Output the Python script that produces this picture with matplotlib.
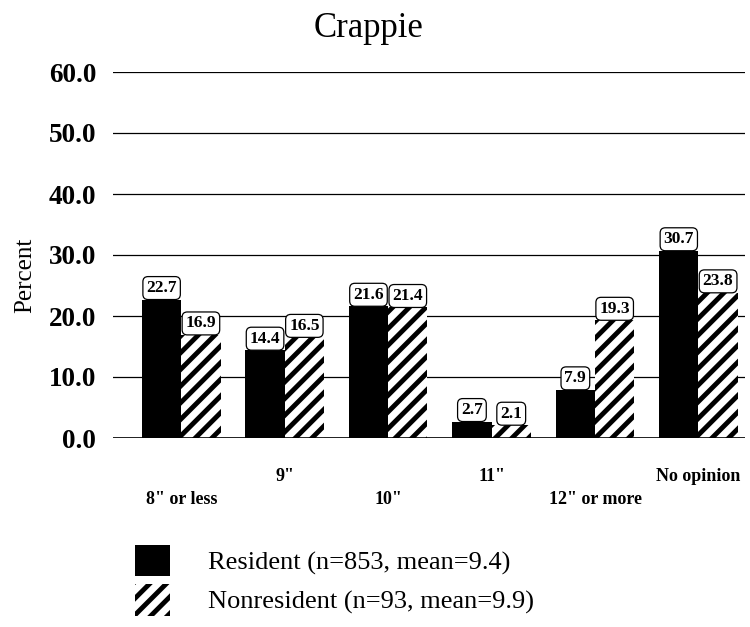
import numpy as np
import matplotlib
matplotlib.use("Agg")
import matplotlib.pyplot as plt
from matplotlib.patches import Patch

# Crappie minimum length preference, resident vs nonresident anglers
categories = ['8" or less', '9"', '10"', '11"', '12" or more', 'No opinion']
resident = [22.7, 14.4, 21.6, 2.7, 7.9, 30.7]
nonresident = [16.9, 16.5, 21.4, 2.1, 19.3, 23.8]
yticks = [0, 10, 20, 30, 40, 50, 60]
residentLabel = "Resident (n=853, mean=9.4)"
nonresidentLabel = "Nonresident (n=93, mean=9.9)"

plt.rcParams['font.family'] = ['Liberation Serif', 'DejaVu Serif']
plt.rcParams['hatch.linewidth'] = 3.5

fig = plt.figure(figsize=(7.5, 6.27), dpi=100)
ax = fig.add_axes([113 / 750, 189 / 627, 632 / 750, 366 / 627])

x = np.arange(len(categories))
width = 0.38

ax.bar(x - width / 2, resident, width, color="black", edgecolor="black", linewidth=0, zorder=2)
ax.bar(x + width / 2, nonresident, width, color="white", edgecolor="black", linewidth=0,
       hatch="//", zorder=2)

# boxed value labels on top of each bar
boxStyle = dict(boxstyle="round,pad=0.2,rounding_size=0.3", fc="white", ec="black", lw=0.9)
for i in range(len(categories)):
    ax.annotate(f"{resident[i]:.1f}", (x[i] - width / 2, resident[i]), xytext=(0, 2.5),
                textcoords="offset points", ha="center", va="bottom", fontsize=12.5,
                fontweight="bold", bbox=boxStyle, zorder=4)
    ax.annotate(f"{nonresident[i]:.1f}", (x[i] + width / 2, nonresident[i]), xytext=(0, 2.5),
                textcoords="offset points", ha="center", va="bottom", fontsize=12.5,
                fontweight="bold", bbox=boxStyle, zorder=4)

ax.set_xlim(-0.66, 5.45)
ax.set_ylim(0, 60)
ax.set_yticks(yticks)
ax.set_yticklabels([f"{t:.1f}" for t in yticks], fontsize=19.5, fontweight="bold")
ax.tick_params(axis="y", length=0, pad=12)
ax.set_xticks([])
ax.yaxis.grid(True, color="black", linewidth=0.9, zorder=0)
ax.set_axisbelow(True)
for s in ax.spines.values():
    s.set_visible(False)
ax.axhline(0, color="black", linewidth=1.2, zorder=3)

# staggered category labels
for i, cat in enumerate(categories):
    yPos = -0.169 if i % 2 == 0 else -0.105
    ax.text(x[i], yPos, cat, transform=ax.get_xaxis_transform(), ha="center", va="center",
            fontsize=13, fontweight="bold")

fig.text(0.492, 0.955, "Crappie", ha="center", va="center", fontsize=25)
fig.text(25 / 750, 1 - 275 / 627, "Percent", rotation=90, ha="center", va="center", fontsize=18)

handles = [Patch(facecolor="black", edgecolor="black", linewidth=0),
           Patch(facecolor="white", edgecolor="black", linewidth=0, hatch="//")]
fig.legend(handles, [residentLabel, nonresidentLabel], loc="upper left",
           bbox_to_anchor=(135 / 750, 1 - 545 / 627), frameon=False, fontsize=19,
           handlelength=1.33, handleheight=1.45, handletextpad=1.45, labelspacing=0.3,
           borderpad=0, borderaxespad=0)

fig.savefig("out.png", dpi=100)
